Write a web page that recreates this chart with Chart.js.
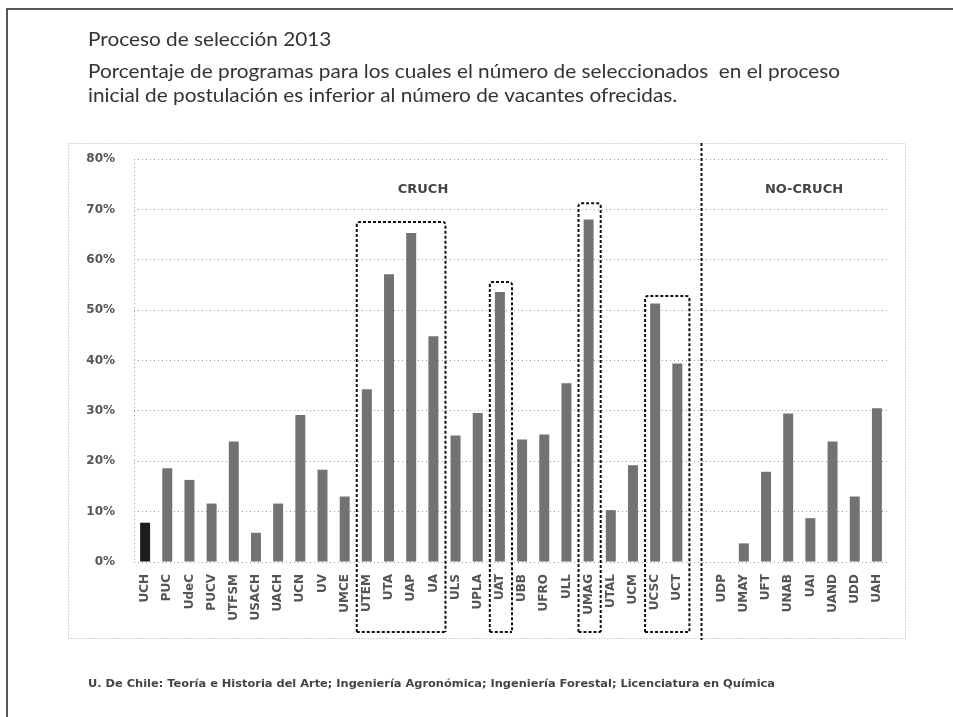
<!DOCTYPE html>
<html>
<head>
<meta charset="utf-8">
<title>Proceso de selección 2013</title>
<script src="https://cdn.jsdelivr.net/npm/chart.js@4/dist/chart.umd.min.js"></script>
<style>
  html, body { margin: 0; padding: 0; background: #fff; }
  canvas { display: block; }
</style>
</head>
<body>
<canvas id="chart" width="953" height="717"></canvas>
<script>
// ========== DATA ==========
// '' marks the empty slot between CRUCH and NO-CRUCH
const universities = [
  'UCH', 'PUC', 'UdeC', 'PUCV', 'UTFSM', 'USACH', 'UACH', 'UCN', 'UV', 'UMCE',
  'UTEM', 'UTA', 'UAP', 'UA', 'ULS', 'UPLA', 'UAT', 'UBB', 'UFRO', 'ULL',
  'UMAG', 'UTAL', 'UCM', 'UCSC', 'UCT', '',
  'UDP', 'UMAY', 'UFT', 'UNAB', 'UAI', 'UAND', 'UDD', 'UAH'
];
const pctPrograms = [
  7.8, 18.6, 16.3, 11.6, 23.9, 5.8, 11.6, 29.2, 18.3, 13.0,
  34.3, 57.1, 65.3, 44.8, 25.1, 29.6, 53.6, 24.3, 25.3, 35.5,
  68.0, 10.3, 19.2, 51.3, 39.4, null,
  0, 3.7, 17.9, 29.5, 8.7, 23.9, 13.0, 30.5
];
const yTicks = [0, 10, 20, 30, 40, 50, 60, 70, 80];

// highlighted groups (index ranges) and the height of their dashed frame, in %
const boxFrom = [10, 16, 20, 23];
const boxTo = [13, 16, 20, 24];
const boxTop = [67.5, 55.6, 71.2, 52.8];
const dividerAt = 25;

const groupLabels = ['CRUCH', 'NO-CRUCH'];

const titleLines = [
  'Proceso de selección 2013',
  'Porcentaje de programas para los cuales el número de seleccionados  en el proceso',
  'inicial de postulación es inferior al número de vacantes ofrecidas.'
];
const footnote = 'U. De Chile: Teoría e Historia del Arte; Ingeniería Agronómica; Ingeniería Forestal; Licenciatura en Química';

// ========== HELPERS ==========
function drawDashed(ctx, pts, dash) {
  ctx.beginPath();
  ctx.moveTo(pts[0][0], pts[0][1]);
  for (let i = 1; i < pts.length; i++) ctx.lineTo(pts[i][0], pts[i][1]);
  ctx.setLineDash(dash);
  ctx.stroke();
}

const decorations = {
  id: 'decorations',
  afterDraw(chart) {
    const ctx = chart.ctx;
    const x = chart.scales.x;
    const y = chart.scales.y;
    const area = chart.chartArea;
    const step = x.getPixelForValue(1) - x.getPixelForValue(0);

    ctx.save();

    // page frame (top + left only, as scanned)
    ctx.strokeStyle = '#222';
    ctx.lineWidth = 1.5;
    ctx.setLineDash([]);
    ctx.beginPath();
    ctx.moveTo(7, 717);
    ctx.lineTo(7, 9);
    ctx.lineTo(953, 9);
    ctx.stroke();

    // dotted chart border
    ctx.strokeStyle = '#aaa';
    ctx.lineWidth = 1;
    ctx.setLineDash([1, 2]);
    ctx.strokeRect(68.5, 143.5, 837, 495);

    // dotted y axis line
    ctx.strokeStyle = '#999';
    drawDashed(ctx, [[area.left + 0.5, area.top], [area.left + 0.5, area.bottom]], [1, 3]);

    // titles, all scaled to the width of the long line
    ctx.fillStyle = '#333';
    ctx.font = '20px Lato';
    const k = 752 / ctx.measureText(titleLines[1]).width;
    const baselines = [46, 78, 102];
    titleLines.forEach((t, i) => {
      ctx.save();
      ctx.translate(88, baselines[i]);
      ctx.scale(k, 1);
      ctx.fillText(t, 0, 0);
      ctx.restore();
    });

    // footnote
    ctx.font = 'bold 11px "DejaVu Sans"';
    ctx.fillStyle = '#444';
    const kf = 687 / ctx.measureText(footnote).width;
    ctx.save();
    ctx.translate(88, 687);
    ctx.scale(kf, 1);
    ctx.fillText(footnote, 0, 0);
    ctx.restore();

    // group labels
    ctx.font = 'bold 13px "DejaVu Sans"';
    ctx.fillStyle = '#444';
    ctx.textAlign = 'center';
    ctx.textBaseline = 'middle';
    ctx.fillText(groupLabels[0], 423, 190);
    ctx.fillText(groupLabels[1], 804, 190);

    // dashed frames around highlighted groups
    ctx.strokeStyle = '#111';
    ctx.lineWidth = 2;
    const bottom = 632;
    boxFrom.forEach((from, i) => {
      const l = x.getPixelForValue(from) - step / 2 + 1;
      const r = x.getPixelForValue(boxTo[i]) + step / 2 + 1;
      const t = y.getPixelForValue(boxTop[i]);
      ctx.beginPath();
      ctx.setLineDash([3, 2]);
      ctx.moveTo(l, bottom);
      ctx.lineTo(l, t + 3);
      ctx.quadraticCurveTo(l, t, l + 3, t);
      ctx.lineTo(r - 3, t);
      ctx.quadraticCurveTo(r, t, r, t + 3);
      ctx.lineTo(r, bottom);
      ctx.stroke();
      // bottom edge
      drawDashed(ctx, [[l, bottom], [r, bottom]], [3, 2]);
    });

    // divider CRUCH / NO-CRUCH
    const dx = x.getPixelForValue(dividerAt) + 2;
    drawDashed(ctx, [[dx, 143], [dx, 640]], [3, 2]);

    ctx.restore();
  }
};

// ========== CHART ==========
const barColors = pctPrograms.map((v, i) => i === 0 ? '#1c1c1c' : '#727272');

new Chart(document.getElementById('chart'), {
  type: 'bar',
  data: {
    labels: universities,
    datasets: [{
      data: pctPrograms,
      backgroundColor: barColors,
      borderWidth: 0,
      barPercentage: 0.45,
      categoryPercentage: 1
    }]
  },
  options: {
    responsive: false,
    animation: false,
    layout: { padding: { top: 159, right: 65, bottom: 0, left: 0 } },
    plugins: {
      legend: { display: false },
      tooltip: { enabled: false }
    },
    scales: {
      x: {
        grid: { display: false, drawTicks: false },
        border: { display: false },
        ticks: {
          autoSkip: false,
          minRotation: 90,
          maxRotation: 90,
          padding: 12,
          color: '#555',
          font: { family: 'DejaVu Sans', size: 12, weight: 'bold' }
        },
        afterFit(scale) { scale.height = 155; }
      },
      y: {
        min: 0,
        max: 80,
        afterBuildTicks(scale) { scale.ticks = yTicks.map(v => ({ value: v })); },
        grid: { color: '#9a9a9a', lineWidth: 1, drawTicks: false },
        border: { display: false, dash: [1, 3] },
        ticks: {
          padding: 19,
          color: '#555',
          font: { family: 'DejaVu Sans', size: 12, weight: 'bold' },
          callback: v => v + '%'
        },
        afterFit(scale) { scale.width = 134; }
      }
    }
  },
  plugins: [decorations]
});
</script>
</body>
</html>
